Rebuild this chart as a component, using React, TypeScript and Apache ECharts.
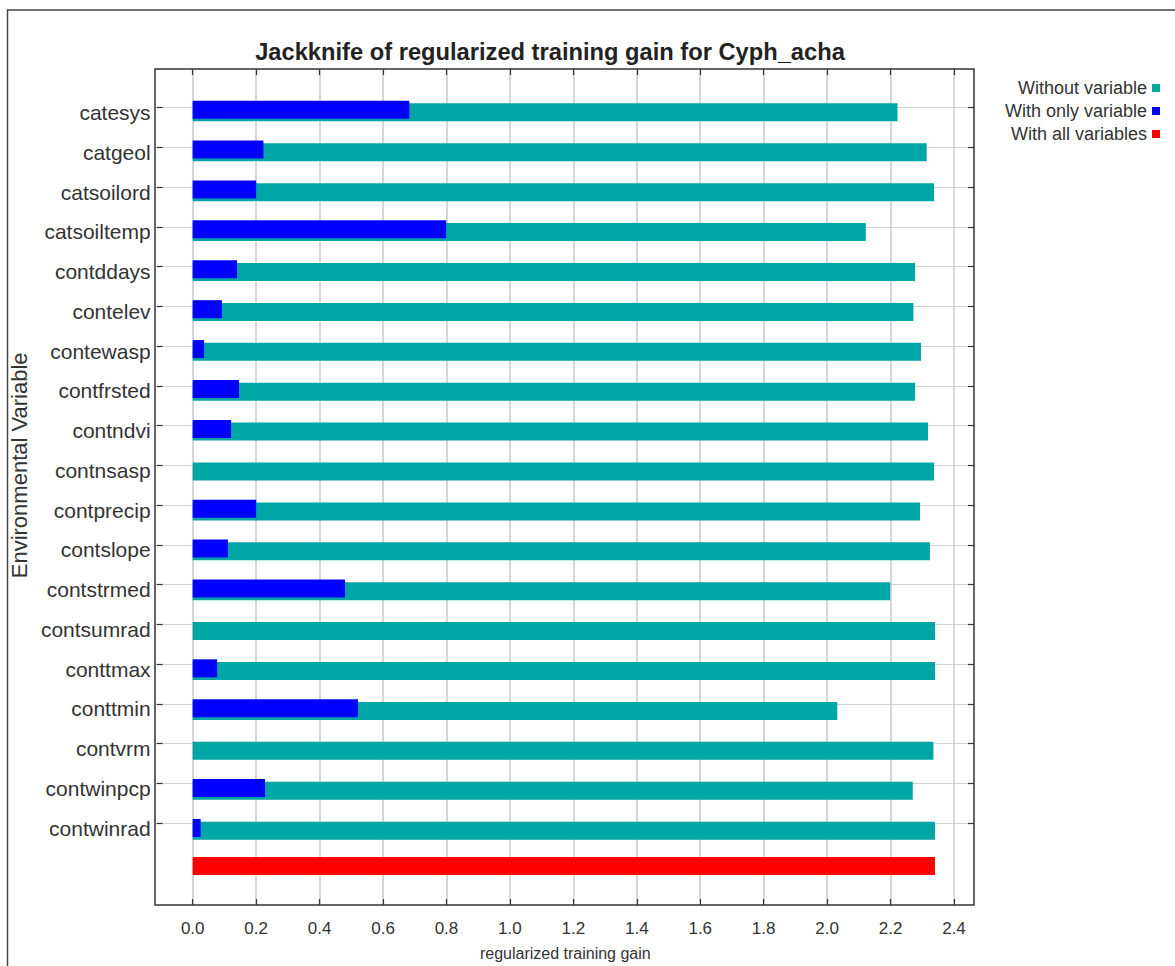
import React, { useEffect, useRef } from "react";
import * as echarts from "echarts";

// ---- data ----
const categories = [
  "catesys", "catgeol", "catsoilord", "catsoiltemp", "contddays", "contelev",
  "contewasp", "contfrsted", "contndvi", "contnsasp", "contprecip", "contslope",
  "contstrmed", "contsumrad", "conttmax", "conttmin", "contvrm", "contwinpcp", "contwinrad",
];
const withoutVariable = [
  2.222, 2.314, 2.337, 2.122, 2.277, 2.272, 2.296, 2.277, 2.318, 2.337,
  2.293, 2.324, 2.199, 2.340, 2.340, 2.032, 2.335, 2.270, 2.340,
];
const withOnlyVariable = [
  0.683, 0.223, 0.200, 0.799, 0.140, 0.092, 0.036, 0.146, 0.121, 0,
  0.200, 0.111, 0.480, 0, 0.077, 0.521, 0, 0.228, 0.025,
];
const withAllVariables = 2.34;
const seriesNames = ["Without variable", "With only variable", "With all variables"];
const xMinTick = 0;
const xMaxTick = 2.4;
const xInterval = 0.2;

// ---- layout ----
const W = 1175;
const H = 966;
const PLOT_L = 155;
const PLOT_R = 974;
const PLOT_T = 69;
const PLOT_B = 905;
const X0 = 192.7;
const X24 = 954;
const TICK_FIRST = 107.7;
const TICK_LAST = 826;
const BAND = (TICK_LAST - TICK_FIRST) / (categories.length - 1);
const PPU = (X24 - X0) / (xMaxTick - xMinTick);
const X_LO = -(X0 - PLOT_L) / PPU;
const X_HI = xMaxTick + (PLOT_R - X24) / PPU;
const SHIFT = 3.3;

const FONT = "'Liberation Sans', Arial, sans-serif";
const TEAL = "#00a6a5";
const BLUE = "#0000ff";
const RED = "#ff0000";

export default function App() {
  const ref = useRef<HTMLDivElement>(null);
  useEffect(() => {
    if (!ref.current) return;
    const chart = echarts.init(ref.current, undefined, { renderer: "svg" });
    const cTop = TICK_FIRST - BAND / 2 + SHIFT;
    const dTop = TICK_FIRST - BAND / 2;
    const redCats = [...categories, "all"];
    const redData = categories.map(() => "-" as any).concat([withAllVariables]);
    chart.setOption({
      animation: false,
      backgroundColor: "#ffffff",
      textStyle: { fontFamily: FONT },
      legend: {
        data: seriesNames,
        orient: "vertical",
        right: 10,
        top: 74,
        align: "right",
        icon: "rect",
        itemWidth: 8,
        itemHeight: 8,
        itemGap: 5,
        selectedMode: false,
        textStyle: { fontSize: 18, color: "#333", fontFamily: FONT },
      },
      grid: [
        { left: PLOT_L, right: W - PLOT_R, top: TICK_FIRST, bottom: H - TICK_LAST },
        { left: X0, right: W - X24, top: PLOT_T, bottom: H - PLOT_B },
        { left: PLOT_L, right: W - PLOT_R, top: cTop, bottom: H - (cTop + BAND * categories.length) },
        { left: PLOT_L, right: W - PLOT_R, top: dTop, bottom: H - (dTop + BAND * redCats.length) },
      ],
      xAxis: [
        {
          gridIndex: 0, type: "value", min: 0, max: 1,
          axisLine: { show: false }, axisTick: { show: false }, axisLabel: { show: false }, splitLine: { show: false },
          name: "regularized training gain", nameLocation: "middle", nameGap: 122,
          nameTextStyle: { fontSize: 16, color: "#333", fontFamily: FONT },
        },
        {
          gridIndex: 1, type: "value", position: "bottom", min: xMinTick, max: xMaxTick, interval: xInterval,
          axisLine: { show: false },
          axisTick: { show: true, inside: true, length: 6, lineStyle: { color: "#333", width: 1.2 } },
          axisLabel: { margin: 15, fontSize: 17, color: "#333", fontFamily: FONT, formatter: (v: number) => v.toFixed(1) },
          splitLine: { show: true, lineStyle: { color: "#c8c8c8", width: 1.5 } },
        },
        {
          gridIndex: 1, type: "value", position: "top", min: xMinTick, max: xMaxTick, interval: xInterval,
          axisLine: { show: false },
          axisTick: { show: true, inside: true, length: 6, lineStyle: { color: "#333", width: 1.2 } },
          axisLabel: { show: false }, splitLine: { show: false },
        },
        { gridIndex: 2, type: "value", min: X_LO, max: X_HI, show: false },
        { gridIndex: 3, type: "value", min: X_LO, max: X_HI, show: false },
      ],
      yAxis: [
        {
          gridIndex: 0, type: "value", position: "left", inverse: true, min: 0, max: categories.length - 1, interval: 1,
          axisLine: { show: false },
          axisTick: { show: true, inside: true, length: 6, lineStyle: { color: "#333", width: 1.2 } },
          axisLabel: {
            margin: 6, fontSize: 21, color: "#333", fontFamily: FONT,
            verticalAlign: "top", lineHeight: 10,
            formatter: (v: number) => categories[v] ?? "",
          },
          splitLine: { show: true, lineStyle: { color: "#d2d2d2", width: 1 } },
          name: "Environmental Variable", nameLocation: "middle", nameRotate: 90, nameGap: 113,
          nameTextStyle: { fontSize: 22, color: "#333", fontFamily: FONT },
        },
        {
          gridIndex: 0, type: "value", position: "right", inverse: true, min: 0, max: categories.length - 1, interval: 1,
          axisLine: { show: false },
          axisTick: { show: true, inside: true, length: 6, lineStyle: { color: "#333", width: 1.2 } },
          axisLabel: { show: false }, splitLine: { show: false },
        },
        { gridIndex: 1, type: "value", show: false },
        { gridIndex: 2, type: "category", data: categories, inverse: true, show: false },
        { gridIndex: 3, type: "category", data: redCats, inverse: true, show: false },
      ],
      series: [
        {
          name: seriesNames[1], type: "bar", xAxisIndex: 3, yAxisIndex: 3,
          data: withOnlyVariable, barWidth: 18, barGap: "-85%", z: 3,
          itemStyle: { color: BLUE }, clip: false,
        },
        {
          name: seriesNames[0], type: "bar", xAxisIndex: 3, yAxisIndex: 3,
          data: withoutVariable, barWidth: 18, barGap: "-85%", z: 2,
          itemStyle: { color: TEAL }, clip: false,
        },
        {
          name: seriesNames[2], type: "bar", xAxisIndex: 4, yAxisIndex: 4,
          data: redData, barWidth: 18, z: 2,
          itemStyle: { color: RED }, clip: false,
        },
      ],
      graphic: [
        {
          type: "rect", silent: true, z: 100,
          shape: { x: 7.5, y: 10, width: 1200, height: 1000 },
          style: { fill: "none", stroke: "#444", lineWidth: 1.5 },
        },
        {
          type: "rect", silent: true, z: 100,
          shape: { x: PLOT_L, y: PLOT_T, width: PLOT_R - PLOT_L, height: PLOT_B - PLOT_T },
          style: { fill: "none", stroke: "#333", lineWidth: 1.5 },
        },
        {
          type: "text", silent: true, z: 100, x: 550, y: 52,
          style: {
            text: "Jackknife of regularized training gain for Cyph_acha",
            font: `bold 23.7px ${FONT}`, fill: "#222", textAlign: "center", textVerticalAlign: "middle",
          },
        },
      ],
    });
    return () => chart.dispose();
  }, []);
  return (
    <div
      ref={ref}
      style={{ position: "fixed", left: 0, top: 0, width: W, height: H, background: "#fff" }}
    />
  );
}
